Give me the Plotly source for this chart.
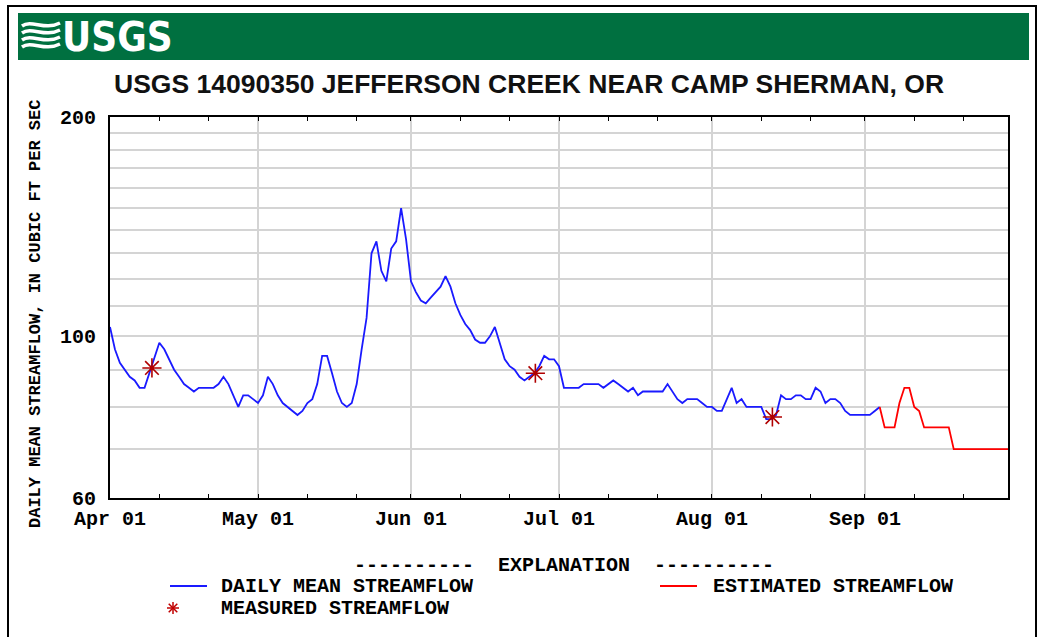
import math
import pandas as pd
import plotly.graph_objects as go

# ---------------- data ----------------
start_date = "2021-04-01"
end_date = "2021-09-30"

# Daily mean streamflow (cfs), Apr 1 .. Sep 4
daily_mean = [
    103, 96, 92, 90, 88, 87, 85, 85, 89, 93,
    98, 96, 93, 90, 88, 86, 85, 84, 85, 85,
    85, 85, 86, 88, 86, 83, 80, 83, 83, 82,
    81, 83, 88, 86, 83, 81, 80, 79, 78, 79,
    81, 82, 86, 94, 94, 89, 84, 81, 80, 81,
    86, 96, 106, 130, 135, 123, 119, 132, 135, 150,
    136, 119, 115, 112, 111, 113, 115, 117, 121, 117,
    111, 107, 104, 102, 99, 98, 98, 100, 103, 98,
    93, 91, 90, 88, 87, 88, 89, 91, 94, 93,
    93, 91, 85, 85, 85, 85, 86, 86, 86, 86,
    85, 86, 87, 86, 85, 84, 85, 83, 84, 84,
    84, 84, 84, 86, 84, 82, 81, 82, 82, 82,
    81, 80, 80, 79, 79, 82, 85, 81, 82, 80,
    80, 80, 80, 77, 77, 78, 83, 82, 82, 83,
    83, 82, 82, 85, 84, 81, 82, 82, 81, 79,
    78, 78, 78, 78, 78, 79, 80,
]

# Estimated streamflow (cfs), Sep 4 .. Sep 30
estimated = [
    80, 75, 75, 75, 81, 85, 85, 80, 79, 75,
    75, 75, 75, 75, 75, 70, 70, 70, 70, 70,
    70, 70, 70, 70, 70, 70, 70,
]

measured_times = ["2021-04-09 12:00", "2021-06-26 05:00", "2021-08-13 06:00"]
measured_values = [90.5, 89, 77.5]

month_ticks = ["2021-04-01", "2021-05-01", "2021-06-01", "2021-07-01", "2021-08-01", "2021-09-01"]
month_labels = ["Apr 01", "May 01", "Jun 01", "Jul 01", "Aug 01", "Sep 01"]
minor_ticks = [f"2021-{m:02d}-{d}" for m in range(4, 10) for d in (11, 21)]

y_ticks = list(range(60, 201, 10))
y_labels = ["60", "", "", "", "100", "", "", "", "", "", "", "", "", "", "200"]

title_text = "USGS 14090350 JEFFERSON CREEK NEAR CAMP SHERMAN, OR"
y_title = "DAILY MEAN STREAMFLOW, IN CUBIC FT PER SEC"

# ---------------- build ----------------
d0 = pd.Timestamp(start_date)
blue_x = [d0 + pd.Timedelta(days=i) for i in range(len(daily_mean))]
red_start = len(daily_mean) - 1
red_x = [d0 + pd.Timedelta(days=red_start + i) for i in range(len(estimated))]

W, H = 1043, 637
L, R, T, B = 110, 1008, 117, 498


def px(x):
    return (x - L) / (R - L)


def py(y):
    return (B - y) / (B - T)


MONO = "Liberation Mono"
mono_font = dict(family=MONO, size=20, color="black", weight="bold")
RED_MARK = "#b00000"
BLUE = "#1a1aff"

fig = go.Figure()
fig.add_trace(go.Scatter(x=blue_x, y=daily_mean, mode="lines",
                         line=dict(color=BLUE, width=1.8), showlegend=False))
fig.add_trace(go.Scatter(x=red_x, y=estimated, mode="lines",
                         line=dict(color="#ff0000", width=1.8), showlegend=False))
fig.add_trace(go.Scatter(x=pd.to_datetime(measured_times), y=measured_values, mode="markers",
                         marker=dict(symbol="asterisk-open", size=16, color=RED_MARK,
                                     line=dict(color=RED_MARK, width=1.6)),
                         showlegend=False))

shapes = []
# outer frame
shapes.append(dict(type="rect", xref="paper", yref="paper", x0=px(8), x1=px(1036),
                   y0=py(700), y1=py(6), line=dict(color="black", width=2)))
# green banner
shapes.append(dict(type="rect", xref="paper", yref="paper", x0=px(18), x1=px(1029),
                   y0=py(60), y1=py(13), fillcolor="#007040", line=dict(width=0), layer="below"))
# logo waves
for yy in (24, 31, 38, 45):
    path = (f"M {px(22)} {py(yy+2)} C {px(32)} {py(yy-5)} {px(44)} {py(yy+7)} {px(60)} {py(yy-1)}")
    shapes.append(dict(type="path", xref="paper", yref="paper", path=path,
                       line=dict(color="white", width=3.5)))
# legend samples
shapes.append(dict(type="line", xref="paper", yref="paper", x0=px(170), x1=px(207),
                   y0=py(586), y1=py(586), line=dict(color=BLUE, width=1.8)))
shapes.append(dict(type="line", xref="paper", yref="paper", x0=px(660), x1=px(697),
                   y0=py(586), y1=py(586), line=dict(color="#ff0000", width=1.8)))
cx, cy, a = 173, 608, 6
for (x0, y0, x1, y1) in [(cx - a, cy, cx + a, cy), (cx, cy - a, cx, cy + a),
                         (cx - 4.3, cy - 4.3, cx + 4.3, cy + 4.3), (cx - 4.3, cy + 4.3, cx + 4.3, cy - 4.3)]:
    shapes.append(dict(type="line", xref="paper", yref="paper", x0=px(x0), x1=px(x1),
                       y0=py(y0), y1=py(y1), line=dict(color="#c00000", width=1.5)))

nb = "\u00a0"
annotations = [
    dict(text="USGS", x=px(60), y=py(37), xref="paper", yref="paper", xanchor="left",
         yanchor="middle", showarrow=False,
         font=dict(family="DejaVu Sans Condensed, Liberation Sans Narrow, Liberation Sans",
                   size=40, color="white", weight="bold")),
    dict(text=title_text, x=px(529), y=py(84), xref="paper", yref="paper", xanchor="center",
         yanchor="middle", showarrow=False,
         font=dict(family="Liberation Sans", size=26.5, color="#111111", weight="bold")),
    dict(text=y_title, x=px(35), y=py(314), xref="paper", yref="paper", xanchor="center",
         yanchor="middle", textangle=-90, showarrow=False,
         font=dict(family=MONO, size=17, color="black", weight="bold")),
    dict(text="-" * 10 + nb * 2 + "EXPLANATION" + nb * 2 + "-" * 10, x=px(564), y=py(565),
         xref="paper", yref="paper", xanchor="center", yanchor="middle", showarrow=False, font=mono_font),
    dict(text="DAILY MEAN STREAMFLOW", x=px(219), y=py(586), xref="paper", yref="paper",
         xanchor="left", yanchor="middle", showarrow=False, font=mono_font),
    dict(text="ESTIMATED STREAMFLOW", x=px(711), y=py(586), xref="paper", yref="paper",
         xanchor="left", yanchor="middle", showarrow=False, font=mono_font),
    dict(text="MEASURED STREAMFLOW", x=px(219), y=py(608), xref="paper", yref="paper",
         xanchor="left", yanchor="middle", showarrow=False, font=mono_font),
]

fig.update_layout(
    width=W, height=H,
    margin=dict(l=L, r=W - R, t=T, b=H - B, pad=0),
    paper_bgcolor="white", plot_bgcolor="white",
    shapes=shapes, annotations=annotations,
    xaxis=dict(type="date", range=[start_date, end_date],
               tickmode="array", tickvals=month_ticks, ticktext=month_labels,
               tickfont=mono_font, showgrid=True, gridcolor="#d4d4d4", gridwidth=2,
               ticks="inside", ticklen=4, tickcolor="black",
               showline=True, linecolor="black", linewidth=2, mirror="ticks",
               zeroline=False, ticklabelstandoff=1,
               minor=dict(tickmode="array", tickvals=minor_ticks, ticks="inside", ticklen=4,
                          tickcolor="black", showgrid=False)),
    yaxis=dict(type="log", range=[math.log10(60), math.log10(200)],
               tickmode="array", tickvals=y_ticks, ticktext=y_labels,
               tickfont=mono_font, showgrid=True, gridcolor="#d4d4d4", gridwidth=2,
               ticks="", showline=True, linecolor="black", linewidth=2, mirror=True,
               zeroline=False, ticklabelstandoff=8),
)

fig.write_html("out.html", config={"displayModeBar": False},
               post_script="document.body.style.margin='0';document.body.style.overflow='hidden';")
